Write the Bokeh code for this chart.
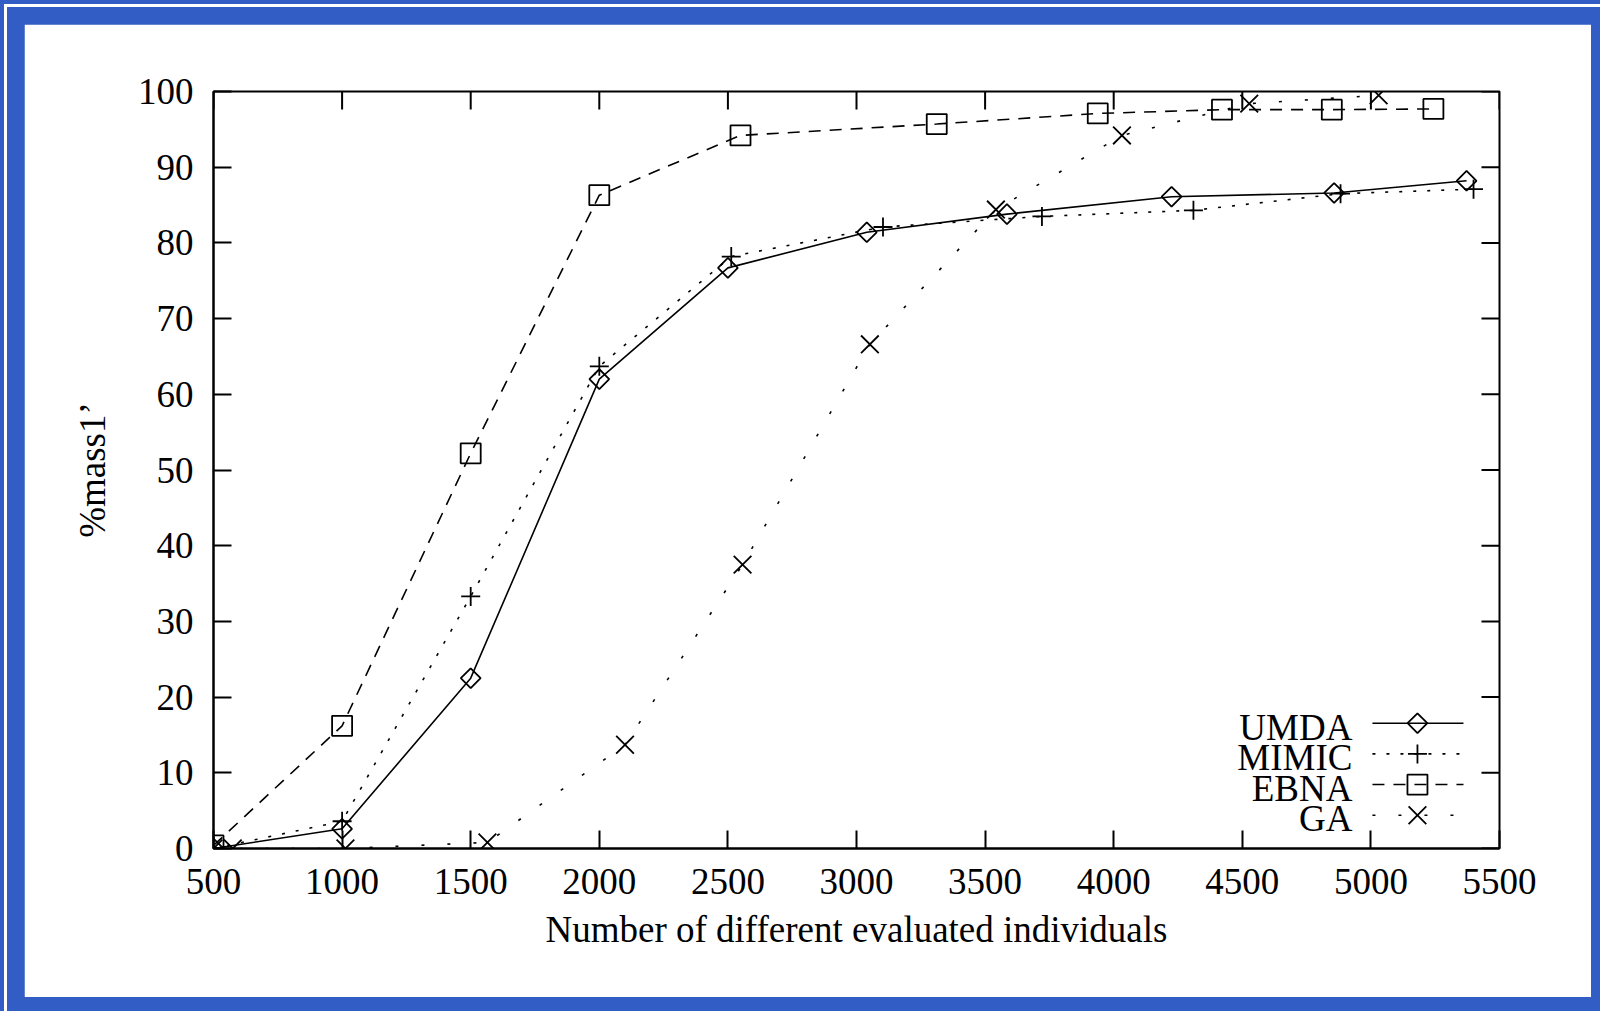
import numpy as np
from bokeh.plotting import figure
from bokeh.models import Range1d, FixedTicker
from bokeh.layouts import column
from bokeh.core.properties import value
from bokeh.embed import file_html
from bokeh.resources import INLINE

# ---------------- data ----------------
x_umda = [500, 1000, 1500, 2000, 2500, 3040, 3585, 4225, 4857, 5372]
y_umda = [0, 2.6, 22.5, 62.0, 76.7, 81.4, 83.8, 86.1, 86.6, 88.2]

x_mimic = [500, 1000, 1500, 2000, 2513, 3103, 3721, 4310, 4882, 5399]
y_mimic = [0, 3.6, 33.3, 63.7, 78.2, 82.1, 83.5, 84.3, 86.5, 87.1]

x_ebna = [500, 1000, 1500, 2000, 2549, 3312, 3938, 4421, 4848, 5243]
y_ebna = [0.4, 16.2, 52.2, 86.3, 94.2, 95.7, 97.1, 97.6, 97.6, 97.7]

x_ga = [500, 575, 1013, 1565, 2100, 2557, 3052, 3542, 4032, 4527, 5030]
y_ga = [0, 0, 0, 0.8, 13.7, 37.5, 66.6, 84.4, 94.2, 98.4, 99.5]

series_names = ["UMDA", "MIMIC", "EBNA", "GA"]
x_ticks = [500, 1000, 1500, 2000, 2500, 3000, 3500, 4000, 4500, 5000, 5500]
y_ticks = [0, 10, 20, 30, 40, 50, 60, 70, 80, 90, 100]

x_label = "Number of different evaluated individuals"
y_label = "%mass1\u2019"

# ---------------- styles ----------------
FONT = "Liberation Serif"
FS = "37px"
BLUE = "#325DC5"
X_MIN, X_MAX, Y_MIN, Y_MAX = 500, 5500, 0, 100
TICK_LEN_X = 70     # inner tick length on the right side (data units, ~18px)
TICK_LEN_Y = 2.38   # inner tick length on the top side (data units, ~18px)

styles = [
    dict(dash="solid", marker="square", angle=np.pi / 4, size=14),
    dict(dash="3 11", marker="cross", angle=0, size=19),
    dict(dash="12 9", marker="square", angle=0, size=20),
    dict(dash="3 23", marker="x", angle=0, size=25),
]
data = [(x_umda, y_umda), (x_mimic, y_mimic), (x_ebna, y_ebna), (x_ga, y_ga)]

p = figure(width=1567, height=973, output_backend="svg", toolbar_location=None,
           x_range=Range1d(X_MIN, X_MAX), y_range=Range1d(Y_MIN, Y_MAX),
           min_border_left=189, min_border_right=92, min_border_top=67, min_border_bottom=149,
           background_fill_color="white", border_fill_color="white")
p.grid.visible = False
p.outline_line_color = "black"
p.outline_line_width = 2

for ax, ticks in ((p.xaxis[0], x_ticks), (p.yaxis[0], y_ticks)):
    ax.ticker = FixedTicker(ticks=ticks)
    ax.minor_tick_line_color = None
    ax.major_tick_in = 18
    ax.major_tick_out = 0
    ax.major_tick_line_width = 2
    ax.axis_line_width = 2
    ax.major_label_text_font = FONT
    ax.major_label_text_font_size = FS
    ax.major_label_text_color = "black"
    ax.axis_label_text_font = FONT
    ax.axis_label_text_font_size = FS
    ax.axis_label_text_font_style = "normal"
    ax.axis_label_text_color = "black"

p.xaxis[0].axis_label = x_label
p.yaxis[0].axis_label = y_label
p.xaxis[0].major_label_standoff = 20
p.xaxis[0].axis_label_standoff = 12
p.yaxis[0].major_label_standoff = 20
p.yaxis[0].axis_label_standoff = 22

# mirrored inner ticks on top and right sides
p.segment(x0=x_ticks, y0=[Y_MAX] * len(x_ticks), x1=x_ticks,
          y1=[Y_MAX - TICK_LEN_Y] * len(x_ticks), line_color="black", line_width=2)
p.segment(x0=[X_MAX] * len(y_ticks), y0=y_ticks, x1=[X_MAX - TICK_LEN_X] * len(y_ticks),
          y1=y_ticks, line_color="black", line_width=2)

for (xs, ys), st in zip(data, styles):
    p.line(xs, ys, line_color="black", line_width=1.6, line_dash=st["dash"])
    p.scatter(xs, ys, marker=st["marker"], size=st["size"], angle=st["angle"],
              fill_color=None, line_color="black", line_width=1.8)

# ---------------- legend (label left of sample) ----------------
LEG_TEXT_X = 4928
LEG_LINE_X0, LEG_LINE_X1, LEG_MARK_X = 5006, 5360, 5181
LEG_ROW_Y = [16.55, 12.5, 8.45, 4.4]
LEG_TEXT_OFFSET = -0.5

for name, st, ly in zip(series_names, styles, LEG_ROW_Y):
    p.line([LEG_LINE_X0, LEG_LINE_X1], [ly, ly], line_color="black", line_width=1.6,
           line_dash=st["dash"])
    p.scatter([LEG_MARK_X], [ly], marker=st["marker"], size=st["size"], angle=st["angle"],
              fill_color=None, line_color="black", line_width=1.8)
    p.text([LEG_TEXT_X], [ly + LEG_TEXT_OFFSET], text=[name], text_font=value(FONT),
           text_font_size=FS, text_align="right", text_baseline="middle",
           text_color="black")

layout = column(p, styles={
    "background-color": BLUE,
    "padding": "24px 9px 14px 24px",
    "box-shadow": f"inset 4px 4px 0 0 {BLUE}, inset 7px 7px 0 0 white",
})

open("out.html", "w").write(file_html(layout, INLINE))
